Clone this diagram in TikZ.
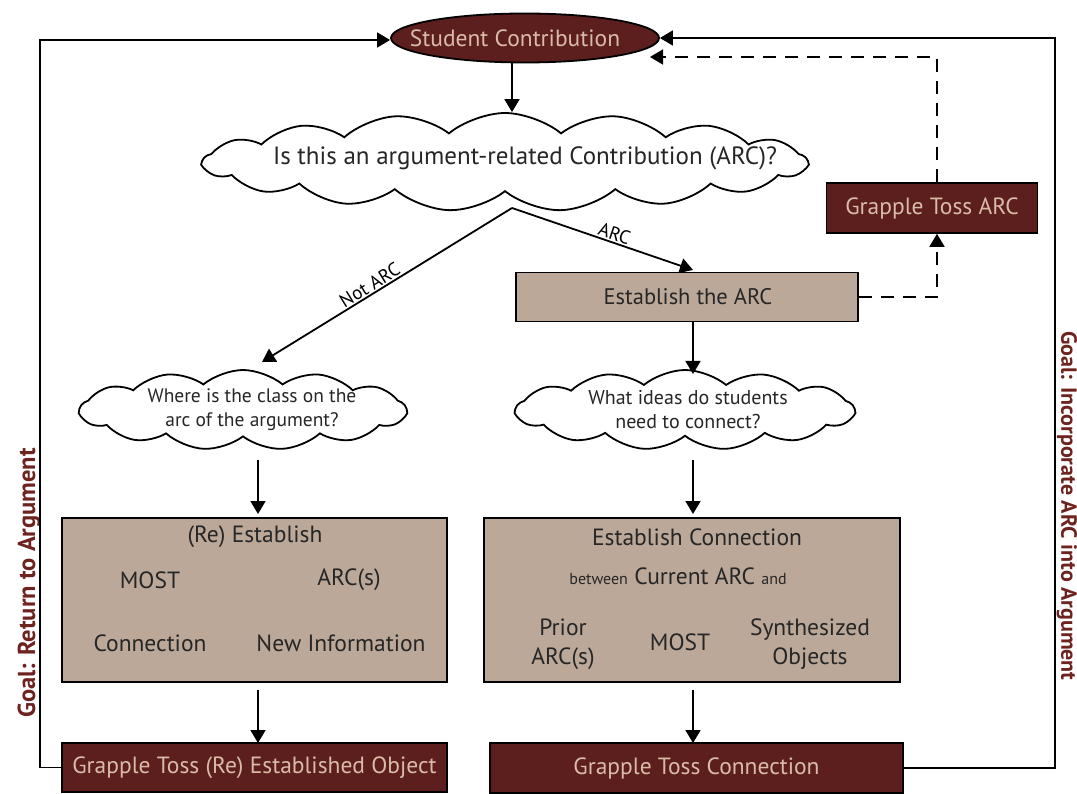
\documentclass[tikz,border=0pt]{standalone}
\usepackage{fontspec}
\setmainfont{PT Sans}
\usetikzlibrary{arrows.meta,shapes.geometric,shapes.symbols,calc}
\definecolor{maroon}{HTML}{5C1F1D}
\definecolor{beige}{HTML}{D9BBA8}
\definecolor{tan}{HTML}{BBA898}
\definecolor{goalred}{HTML}{6E231E}
\tikzset{
  darkbox/.style={draw=black,line width=1.6pt,fill=maroon,text=beige,font=\fontsize{23.5}{27}\selectfont,inner sep=0pt},
  tanbox/.style={draw=black,line width=1.8pt,fill=tan,inner sep=0pt},
  cloudshape/.style={cloud,draw=black,line width=1.8pt,fill=white,inner sep=0pt,cloud puff arc=80},
  arr/.style={line width=1.8pt,-{Triangle[length=13pt,width=15pt]}},
  frameline/.style={line width=1.6pt},
  dash1/.style={line width=1.8pt,dash pattern=on 13pt off 9pt},
  txt/.style={font=\fontsize{23.5}{29}\selectfont,text=black!85,inner sep=0pt},
  smalltxt/.style={font=\fontsize{20}{24}\selectfont,text=black!85,inner sep=0pt,align=center},
  lbl/.style={font=\fontsize{19}{22}\selectfont,inner sep=2pt},
  goal/.style={font=\bfseries\selectfont,text=goalred,inner sep=0pt}
}
\begin{document}
\begin{tikzpicture}[x=1pt,y=-1pt]
\useasboundingbox (0,0) rectangle (1077,794);
% top ellipse
\node[ellipse,draw=black,line width=1.8pt,fill=maroon,minimum width=268pt,minimum height=49pt,inner sep=0pt] (sc) at (525,38) {};
\node[text=beige,font=\fontsize{23.5}{28}\selectfont,inner sep=0pt] (sct) at (515,38) {Student Contribution};
% main cloud
\node[cloudshape,cloud puffs=17,aspect=6.3,minimum width=604pt,minimum height=98pt] (q) at (505,162) {};
\node[txt,font=\fontsize{25}{29}\selectfont] (qt) at (525,158) {Is this an argument-related Contribution (ARC)?};
\coordinate (split) at (512,208);
% establish the ARC
\node[tanbox,minimum width=342pt,minimum height=49pt] (ea) at (687,297) {};
\node[txt,font=\fontsize{22.5}{27}\selectfont] (eat) at (688,297) {Establish the ARC};
% grapple toss ARC
\node[darkbox,minimum width=211pt,minimum height=50pt] (gta) at (932,208) {Grapple Toss ARC};
% clouds level 2
\node[cloudshape,cloud puffs=13,aspect=4.3,minimum width=326pt,minimum height=80pt] (c1) at (243,410) {};
\node[smalltxt,font=\fontsize{19.5}{24}\selectfont] (c1t) at (252,410) {Where is the class on the\\arc of the argument?};
\node[cloudshape,cloud puffs=13,aspect=4.3,minimum width=338pt,minimum height=80pt] (c2) at (685,410) {};
\node[smalltxt] (c2t) at (688,410) {What ideas do students\\need to connect?};
% big tan boxes
\node[tanbox,minimum width=385pt,minimum height=164pt] (b1) at (254.5,600) {};
\node[txt] at (255,537) {(Re) Establish};
\node[txt] at (150,580) {MOST};
\node[txt] at (349,580) {ARC(s)};
\node[txt] at (150,643) {Connection};
\node[txt] at (341,643) {New Information};
\node[tanbox,minimum width=416pt,minimum height=164pt] (b2) at (692,600) {};
\node[txt] at (697,537) {Establish Connection};
\node[txt] at (678,576) {{\fontsize{16}{18}\selectfont between} Current ARC {\fontsize{16}{18}\selectfont and}};
\node[txt,align=center] at (563,644) {Prior\\ARC(s)};
\node[txt] at (680,642) {MOST};
\node[txt,align=center] at (810,644) {Synthesized\\Objects};
% bottom boxes
\node[darkbox,minimum width=385pt,minimum height=49pt] (g1) at (254.5,767.5) {Grapple Toss (Re) Established Object};
\node[darkbox,minimum width=413pt,minimum height=50pt] (g2) at (696.5,768) {Grapple Toss Connection};
% goal texts
\node[goal,rotate=90,font=\bfseries\fontsize{24.5}{28}\selectfont] (goalL) at (29,583) {Goal: Return to Argument};
\node[goal,rotate=-90,font=\bfseries\fontsize{22}{26}\selectfont] (goalR) at (1067,506) {Goal: Incorporate ARC into Argument};
% connectors
\draw[arr] (sc.south -| split) -- (split |- q.north);
\draw[arr] (split) -- (262,362) coordinate (nae);
\path (nae) -- (split) node[lbl,pos=0.45,sloped,above] {Not ARC};
\draw[arr] (split) -- (693,270) coordinate (ae);
\path (split) -- (ae) node[lbl,pos=0.55,sloped,above] {ARC};
\draw[arr] (ea.south -| 693,0) -- (693,374);
\draw[arr] (258,460) -- (258,514);
\draw[arr] (693,460) -- (693,514);
\draw[arr] (258,690) -- (258,743);
\draw[arr] (693,690) -- (693,743);
% dashed
\draw[dash1,-{Triangle[length=13pt,width=15pt]}] (ea.east) -- (937,297) -- (gta.south -| 937,0);
\coordinate (dtip) at (650,57);
\draw[dash1,-{Triangle[length=13pt,width=15pt]}] (gta.north -| 937,0) -- (937,57) -- (dtip);
% frame lines
\draw[frameline,-{Triangle[length=13pt,width=15pt]}] (g1.west) -- (40,767.5) -- (40,40) -- (sc.west |- 0,40);
\draw[frameline,-{Triangle[length=13pt,width=15pt]}] (g2.east) -- (1055,768) -- (1055,38) -- (sc.east);
\end{tikzpicture}
\end{document}
